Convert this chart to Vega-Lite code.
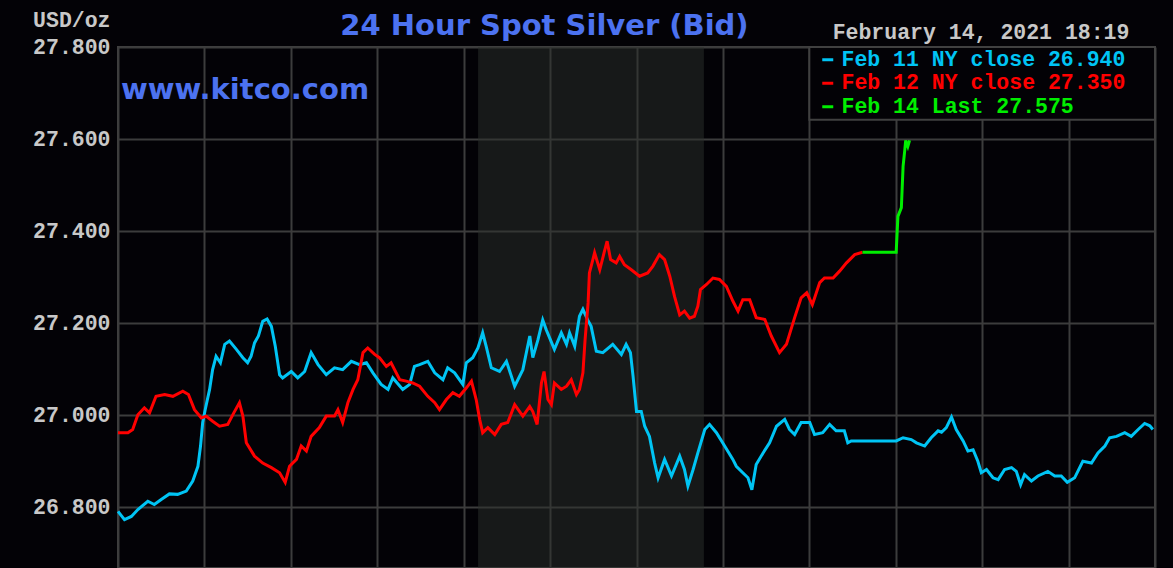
{
  "$schema": "https://vega.github.io/schema/vega-lite/v6.json",
  "width": 1037,
  "height": 521,
  "autosize": {"type": "none"},
  "padding": {"left": 118, "top": 47, "right": 18, "bottom": 0},
  "background": "#030206",
  "config": {
    "view": {"stroke": "#404040", "strokeWidth": 2},
    "axis": {"gridColor": "#3c3c3c", "gridWidth": 2, "gridOpacity": 1}
  },
  "datasets": {
    "spot": [
      {"series":"Feb 11","hour":0,"price":26.791},{"series":"Feb 11","hour":0.15,"price":26.773},{"series":"Feb 11","hour":0.31,"price":26.78},{"series":"Feb 11","hour":0.46,"price":26.795},{"series":"Feb 11","hour":0.69,"price":26.813},{"series":"Feb 11","hour":0.84,"price":26.806},{"series":"Feb 11","hour":1.0,"price":26.817},{"series":"Feb 11","hour":1.19,"price":26.829},{"series":"Feb 11","hour":1.38,"price":26.828},{"series":"Feb 11","hour":1.58,"price":26.835},{"series":"Feb 11","hour":1.73,"price":26.857},{"series":"Feb 11","hour":1.85,"price":26.889},{"series":"Feb 11","hour":1.91,"price":26.933},{"series":"Feb 11","hour":1.96,"price":26.984},{"series":"Feb 11","hour":2.02,"price":27.013},{"series":"Feb 11","hour":2.12,"price":27.056},{"series":"Feb 11","hour":2.19,"price":27.099},{"series":"Feb 11","hour":2.27,"price":27.128},{"series":"Feb 11","hour":2.37,"price":27.114},{"series":"Feb 11","hour":2.47,"price":27.154},{"series":"Feb 11","hour":2.58,"price":27.161},{"series":"Feb 11","hour":2.74,"price":27.143},{"series":"Feb 11","hour":2.89,"price":27.125},{"series":"Feb 11","hour":3.0,"price":27.114},{"series":"Feb 11","hour":3.08,"price":27.128},{"series":"Feb 11","hour":3.16,"price":27.157},{"series":"Feb 11","hour":3.25,"price":27.172},{"series":"Feb 11","hour":3.35,"price":27.204},{"series":"Feb 11","hour":3.45,"price":27.209},{"series":"Feb 11","hour":3.55,"price":27.193},{"series":"Feb 11","hour":3.64,"price":27.15},{"series":"Feb 11","hour":3.74,"price":27.088},{"series":"Feb 11","hour":3.81,"price":27.081},{"series":"Feb 11","hour":4.01,"price":27.095},{"series":"Feb 11","hour":4.16,"price":27.081},{"series":"Feb 11","hour":4.32,"price":27.095},{"series":"Feb 11","hour":4.47,"price":27.136},{"series":"Feb 11","hour":4.63,"price":27.11},{"series":"Feb 11","hour":4.82,"price":27.088},{"series":"Feb 11","hour":5.01,"price":27.103},{"series":"Feb 11","hour":5.2,"price":27.099},{"series":"Feb 11","hour":5.4,"price":27.117},{"series":"Feb 11","hour":5.59,"price":27.11},{"series":"Feb 11","hour":5.75,"price":27.114},{"series":"Feb 11","hour":5.9,"price":27.092},{"series":"Feb 11","hour":6.09,"price":27.067},{"series":"Feb 11","hour":6.25,"price":27.056},{"series":"Feb 11","hour":6.36,"price":27.081},{"series":"Feb 11","hour":6.59,"price":27.056},{"series":"Feb 11","hour":6.75,"price":27.067},{"series":"Feb 11","hour":6.86,"price":27.106},{"series":"Feb 11","hour":6.98,"price":27.11},{"series":"Feb 11","hour":7.17,"price":27.117},{"series":"Feb 11","hour":7.33,"price":27.092},{"series":"Feb 11","hour":7.52,"price":27.077},{"series":"Feb 11","hour":7.63,"price":27.103},{"series":"Feb 11","hour":7.79,"price":27.092},{"series":"Feb 11","hour":7.98,"price":27.067},{"series":"Feb 11","hour":8.06,"price":27.114},{"series":"Feb 11","hour":8.21,"price":27.125},{"series":"Feb 11","hour":8.33,"price":27.146},{"series":"Feb 11","hour":8.44,"price":27.179},{"series":"Feb 11","hour":8.52,"price":27.15},{"series":"Feb 11","hour":8.64,"price":27.103},{"series":"Feb 11","hour":8.83,"price":27.095},{"series":"Feb 11","hour":8.99,"price":27.117},{"series":"Feb 11","hour":9.18,"price":27.063},{"series":"Feb 11","hour":9.37,"price":27.099},{"series":"Feb 11","hour":9.53,"price":27.172},{"series":"Feb 11","hour":9.6,"price":27.125},{"series":"Feb 11","hour":9.72,"price":27.164},{"series":"Feb 11","hour":9.83,"price":27.207},{"series":"Feb 11","hour":9.91,"price":27.186},{"series":"Feb 11","hour":10.1,"price":27.143},{"series":"Feb 11","hour":10.26,"price":27.179},{"series":"Feb 11","hour":10.38,"price":27.154},{"series":"Feb 11","hour":10.45,"price":27.179},{"series":"Feb 11","hour":10.57,"price":27.15},{"series":"Feb 11","hour":10.68,"price":27.215},{"series":"Feb 11","hour":10.76,"price":27.23},{"series":"Feb 11","hour":10.87,"price":27.207},{"series":"Feb 11","hour":10.95,"price":27.193},{"series":"Feb 11","hour":11.07,"price":27.139},{"series":"Feb 11","hour":11.22,"price":27.136},{"series":"Feb 11","hour":11.45,"price":27.154},{"series":"Feb 11","hour":11.65,"price":27.132},{"series":"Feb 11","hour":11.76,"price":27.154},{"series":"Feb 11","hour":11.86,"price":27.136},{"series":"Feb 11","hour":11.92,"price":27.085},{"series":"Feb 11","hour":12.0,"price":27.008},{"series":"Feb 11","hour":12.11,"price":27.008},{"series":"Feb 11","hour":12.19,"price":26.976},{"series":"Feb 11","hour":12.3,"price":26.954},{"series":"Feb 11","hour":12.42,"price":26.896},{"series":"Feb 11","hour":12.5,"price":26.864},{"series":"Feb 11","hour":12.65,"price":26.904},{"series":"Feb 11","hour":12.81,"price":26.868},{"series":"Feb 11","hour":13.0,"price":26.911},{"series":"Feb 11","hour":13.11,"price":26.882},{"series":"Feb 11","hour":13.19,"price":26.846},{"series":"Feb 11","hour":13.31,"price":26.882},{"series":"Feb 11","hour":13.42,"price":26.918},{"series":"Feb 11","hour":13.58,"price":26.969},{"series":"Feb 11","hour":13.69,"price":26.98},{"series":"Feb 11","hour":13.85,"price":26.962},{"series":"Feb 11","hour":14.04,"price":26.933},{"series":"Feb 11","hour":14.23,"price":26.904},{"series":"Feb 11","hour":14.31,"price":26.889},{"series":"Feb 11","hour":14.46,"price":26.875},{"series":"Feb 11","hour":14.58,"price":26.864},{"series":"Feb 11","hour":14.67,"price":26.838},{"series":"Feb 11","hour":14.77,"price":26.893},{"series":"Feb 11","hour":14.93,"price":26.918},{"series":"Feb 11","hour":15.08,"price":26.94},{"series":"Feb 11","hour":15.24,"price":26.976},{"series":"Feb 11","hour":15.43,"price":26.991},{"series":"Feb 11","hour":15.54,"price":26.969},{"series":"Feb 11","hour":15.66,"price":26.958},{"series":"Feb 11","hour":15.81,"price":26.984},{"series":"Feb 11","hour":16.01,"price":26.984},{"series":"Feb 11","hour":16.12,"price":26.958},{"series":"Feb 11","hour":16.31,"price":26.962},{"series":"Feb 11","hour":16.47,"price":26.98},{"series":"Feb 11","hour":16.62,"price":26.966},{"series":"Feb 11","hour":16.81,"price":26.966},{"series":"Feb 11","hour":16.89,"price":26.94},{"series":"Feb 11","hour":16.97,"price":26.944},{"series":"Feb 11","hour":18.01,"price":26.944},{"series":"Feb 11","hour":18.17,"price":26.951},{"series":"Feb 11","hour":18.36,"price":26.947},{"series":"Feb 11","hour":18.48,"price":26.94},{"series":"Feb 11","hour":18.67,"price":26.933},{"series":"Feb 11","hour":18.82,"price":26.951},{"series":"Feb 11","hour":18.98,"price":26.966},{"series":"Feb 11","hour":19.06,"price":26.963},{"series":"Feb 11","hour":19.17,"price":26.973},{"series":"Feb 11","hour":19.29,"price":26.996},{"series":"Feb 11","hour":19.4,"price":26.969},{"series":"Feb 11","hour":19.56,"price":26.944},{"series":"Feb 11","hour":19.67,"price":26.922},{"series":"Feb 11","hour":19.79,"price":26.925},{"series":"Feb 11","hour":19.9,"price":26.9},{"series":"Feb 11","hour":19.98,"price":26.875},{"series":"Feb 11","hour":20.1,"price":26.882},{"series":"Feb 11","hour":20.25,"price":26.864},{"series":"Feb 11","hour":20.37,"price":26.86},{"series":"Feb 11","hour":20.52,"price":26.882},{"series":"Feb 11","hour":20.68,"price":26.886},{"series":"Feb 11","hour":20.79,"price":26.878},{"series":"Feb 11","hour":20.89,"price":26.849},{"series":"Feb 11","hour":20.98,"price":26.871},{"series":"Feb 11","hour":21.14,"price":26.857},{"series":"Feb 11","hour":21.29,"price":26.868},{"series":"Feb 11","hour":21.52,"price":26.878},{"series":"Feb 11","hour":21.68,"price":26.868},{"series":"Feb 11","hour":21.83,"price":26.868},{"series":"Feb 11","hour":21.97,"price":26.854},{"series":"Feb 11","hour":22.14,"price":26.864},{"series":"Feb 11","hour":22.33,"price":26.9},{"series":"Feb 11","hour":22.53,"price":26.896},{"series":"Feb 11","hour":22.68,"price":26.918},{"series":"Feb 11","hour":22.84,"price":26.933},{"series":"Feb 11","hour":22.95,"price":26.951},{"series":"Feb 11","hour":23.11,"price":26.954},{"series":"Feb 11","hour":23.3,"price":26.962},{"series":"Feb 11","hour":23.45,"price":26.954},{"series":"Feb 11","hour":23.61,"price":26.969},{"series":"Feb 11","hour":23.76,"price":26.982},{"series":"Feb 11","hour":23.88,"price":26.977},{"series":"Feb 11","hour":23.95,"price":26.969},
      {"series":"Feb 12","hour":0,"price":26.962},{"series":"Feb 12","hour":0.23,"price":26.962},{"series":"Feb 12","hour":0.34,"price":26.969},{"series":"Feb 12","hour":0.46,"price":27.001},{"series":"Feb 12","hour":0.61,"price":27.016},{"series":"Feb 12","hour":0.73,"price":27.005},{"series":"Feb 12","hour":0.88,"price":27.041},{"series":"Feb 12","hour":1.08,"price":27.045},{"series":"Feb 12","hour":1.27,"price":27.041},{"series":"Feb 12","hour":1.5,"price":27.052},{"series":"Feb 12","hour":1.63,"price":27.045},{"series":"Feb 12","hour":1.77,"price":27.012},{"series":"Feb 12","hour":1.93,"price":26.994},{"series":"Feb 12","hour":2.04,"price":26.998},{"series":"Feb 12","hour":2.19,"price":26.987},{"series":"Feb 12","hour":2.35,"price":26.976},{"series":"Feb 12","hour":2.54,"price":26.98},{"series":"Feb 12","hour":2.68,"price":27.005},{"series":"Feb 12","hour":2.81,"price":27.027},{"series":"Feb 12","hour":2.89,"price":26.998},{"series":"Feb 12","hour":2.97,"price":26.94},{"series":"Feb 12","hour":3.16,"price":26.911},{"series":"Feb 12","hour":3.35,"price":26.896},{"series":"Feb 12","hour":3.55,"price":26.886},{"series":"Feb 12","hour":3.74,"price":26.875},{"series":"Feb 12","hour":3.87,"price":26.854},{"series":"Feb 12","hour":3.97,"price":26.889},{"series":"Feb 12","hour":4.13,"price":26.904},{"series":"Feb 12","hour":4.24,"price":26.933},{"series":"Feb 12","hour":4.36,"price":26.922},{"series":"Feb 12","hour":4.47,"price":26.954},{"series":"Feb 12","hour":4.66,"price":26.973},{"series":"Feb 12","hour":4.82,"price":26.998},{"series":"Feb 12","hour":5.01,"price":26.998},{"series":"Feb 12","hour":5.09,"price":27.012},{"series":"Feb 12","hour":5.2,"price":26.984},{"series":"Feb 12","hour":5.32,"price":27.027},{"series":"Feb 12","hour":5.44,"price":27.056},{"series":"Feb 12","hour":5.55,"price":27.077},{"series":"Feb 12","hour":5.67,"price":27.136},{"series":"Feb 12","hour":5.78,"price":27.146},{"series":"Feb 12","hour":5.94,"price":27.132},{"series":"Feb 12","hour":6.05,"price":27.125},{"series":"Feb 12","hour":6.21,"price":27.106},{"series":"Feb 12","hour":6.32,"price":27.114},{"series":"Feb 12","hour":6.52,"price":27.077},{"series":"Feb 12","hour":6.67,"price":27.074},{"series":"Feb 12","hour":6.82,"price":27.07},{"series":"Feb 12","hour":6.98,"price":27.063},{"series":"Feb 12","hour":7.17,"price":27.041},{"series":"Feb 12","hour":7.33,"price":27.027},{"series":"Feb 12","hour":7.44,"price":27.012},{"series":"Feb 12","hour":7.6,"price":27.034},{"series":"Feb 12","hour":7.75,"price":27.049},{"series":"Feb 12","hour":7.9,"price":27.041},{"series":"Feb 12","hour":8.06,"price":27.059},{"series":"Feb 12","hour":8.18,"price":27.074},{"series":"Feb 12","hour":8.29,"price":27.034},{"series":"Feb 12","hour":8.37,"price":26.991},{"series":"Feb 12","hour":8.44,"price":26.962},{"series":"Feb 12","hour":8.56,"price":26.973},{"series":"Feb 12","hour":8.72,"price":26.958},{"series":"Feb 12","hour":8.87,"price":26.98},{"series":"Feb 12","hour":9.02,"price":26.984},{"series":"Feb 12","hour":9.18,"price":27.023},{"series":"Feb 12","hour":9.37,"price":26.998},{"series":"Feb 12","hour":9.53,"price":27.019},{"series":"Feb 12","hour":9.6,"price":27.008},{"series":"Feb 12","hour":9.7,"price":26.98},{"series":"Feb 12","hour":9.8,"price":27.07},{"series":"Feb 12","hour":9.86,"price":27.095},{"series":"Feb 12","hour":9.95,"price":27.034},{"series":"Feb 12","hour":10.03,"price":27.023},{"series":"Feb 12","hour":10.1,"price":27.07},{"series":"Feb 12","hour":10.26,"price":27.056},{"series":"Feb 12","hour":10.38,"price":27.063},{"series":"Feb 12","hour":10.49,"price":27.077},{"series":"Feb 12","hour":10.61,"price":27.045},{"series":"Feb 12","hour":10.68,"price":27.056},{"series":"Feb 12","hour":10.76,"price":27.092},{"series":"Feb 12","hour":10.81,"price":27.164},{"series":"Feb 12","hour":10.88,"price":27.244},{"series":"Feb 12","hour":10.91,"price":27.309},{"series":"Feb 12","hour":10.99,"price":27.338},{"series":"Feb 12","hour":11.03,"price":27.353},{"series":"Feb 12","hour":11.15,"price":27.316},{"series":"Feb 12","hour":11.25,"price":27.353},{"series":"Feb 12","hour":11.32,"price":27.378},{"series":"Feb 12","hour":11.4,"price":27.338},{"series":"Feb 12","hour":11.53,"price":27.331},{"series":"Feb 12","hour":11.61,"price":27.345},{"series":"Feb 12","hour":11.72,"price":27.327},{"series":"Feb 12","hour":11.88,"price":27.316},{"series":"Feb 12","hour":12.07,"price":27.302},{"series":"Feb 12","hour":12.26,"price":27.309},{"series":"Feb 12","hour":12.38,"price":27.324},{"series":"Feb 12","hour":12.53,"price":27.349},{"series":"Feb 12","hour":12.65,"price":27.338},{"series":"Feb 12","hour":12.77,"price":27.302},{"series":"Feb 12","hour":12.88,"price":27.258},{"series":"Feb 12","hour":13.0,"price":27.218},{"series":"Feb 12","hour":13.11,"price":27.226},{"series":"Feb 12","hour":13.23,"price":27.211},{"series":"Feb 12","hour":13.34,"price":27.215},{"series":"Feb 12","hour":13.42,"price":27.237},{"series":"Feb 12","hour":13.48,"price":27.273},{"series":"Feb 12","hour":13.62,"price":27.284},{"series":"Feb 12","hour":13.77,"price":27.298},{"series":"Feb 12","hour":13.92,"price":27.295},{"series":"Feb 12","hour":14.08,"price":27.28},{"series":"Feb 12","hour":14.23,"price":27.248},{"series":"Feb 12","hour":14.35,"price":27.226},{"series":"Feb 12","hour":14.46,"price":27.251},{"series":"Feb 12","hour":14.62,"price":27.251},{"series":"Feb 12","hour":14.77,"price":27.212},{"series":"Feb 12","hour":14.97,"price":27.208},{"series":"Feb 12","hour":15.12,"price":27.172},{"series":"Feb 12","hour":15.31,"price":27.136},{"series":"Feb 12","hour":15.47,"price":27.154},{"series":"Feb 12","hour":15.66,"price":27.212},{"series":"Feb 12","hour":15.81,"price":27.255},{"series":"Feb 12","hour":15.94,"price":27.266},{"series":"Feb 12","hour":16.07,"price":27.24},{"series":"Feb 12","hour":16.24,"price":27.288},{"series":"Feb 12","hour":16.35,"price":27.298},{"series":"Feb 12","hour":16.55,"price":27.298},{"series":"Feb 12","hour":16.7,"price":27.313},{"series":"Feb 12","hour":16.86,"price":27.331},{"series":"Feb 12","hour":17.05,"price":27.349},{"series":"Feb 12","hour":17.23,"price":27.354},
      {"series":"Feb 14","hour":17.23,"price":27.354},{"series":"Feb 14","hour":18.01,"price":27.354},{"series":"Feb 14","hour":18.05,"price":27.432},{"series":"Feb 14","hour":18.13,"price":27.451},{"series":"Feb 14","hour":18.17,"price":27.541},{"series":"Feb 14","hour":18.21,"price":27.577},{"series":"Feb 14","hour":18.23,"price":27.597},{"series":"Feb 14","hour":18.28,"price":27.584},{"series":"Feb 14","hour":18.32,"price":27.597}
    ],
    "session": [{"open": 8.333, "close": 13.56}]
  },
  "layer": [
    {
      "data": {"name": "session"},
      "mark": {"type": "rect", "fill": "#2c302c", "opacity": 0.5},
      "encoding": {
        "x": {"field": "open", "type": "quantitative", "scale": {"domain": [0, 24], "nice": false, "zero": false},
              "axis": {"values": [0,2,4,6,8,10,12,14,16,18,20,22,24], "labels": false, "ticks": false, "domain": false, "grid": true, "title": null}},
        "x2": {"field": "close"}
      }
    },
    {
      "data": {"name": "spot"},
      "mark": {"type": "line", "strokeWidth": 3, "interpolate": "linear"},
      "encoding": {
        "x": {"field": "hour", "type": "quantitative"},
        "y": {"field": "price", "type": "quantitative",
              "scale": {"domain": [26.668, 27.8], "nice": false, "zero": false},
              "axis": {"values": [26.8, 27.0, 27.2, 27.4, 27.6, 27.8], "format": ".3f", "grid": true, "domain": false, "ticks": false,
                       "labelPadding": 8, "labelFont": "Liberation Mono", "labelFontSize": 21.5, "labelFontWeight": "bold", "labelColor": "#c8c8c8",
                       "labelBaseline": "middle", "labelOverlap": false, "labelBound": false,
                       "title": "USD/oz", "titleAngle": 0, "titleAlign": "right", "titleBaseline": "middle", "titleX": -8, "titleY": -27,
                       "titleFont": "Liberation Mono", "titleFontSize": 21.5, "titleFontWeight": "bold", "titleColor": "#c8c8c8"}},
        "color": {"field": "series", "type": "nominal",
                  "scale": {"domain": ["Feb 11", "Feb 12", "Feb 14"], "range": ["#00c4f4", "#ff0000", "#00ee00"]},
                  "legend": {"orient": "none", "legendX": 699, "legendY": 2, "title": null, "symbolType": "stroke", "symbolSize": 121, "symbolStrokeWidth": 3,
                             "labelOffset": 3, "rowPadding": 0.5, "padding": 0,
                             "labelFont": "Liberation Mono", "labelFontSize": 21.5, "labelFontWeight": "bold", "labelLimit": 400,
                             "labelExpr": "datum.label == 'Feb 11' ? 'Feb 11 NY close 26.940' : datum.label == 'Feb 12' ? 'Feb 12 NY close 27.350' : 'Feb 14 Last 27.575'",
                             "encode": {"labels": {"update": {"fill": {"scale": "color", "field": "value"}}}}}},
        "detail": {"field": "series"}
      }
    },
    {
      "data": {"values": [{}]},
      "mark": {"type": "rect", "fill": "#030206", "stroke": "#404040", "strokeWidth": 2},
      "encoding": {
        "x": {"datum": 16, "type": "quantitative"},
        "x2": {"datum": 24},
        "y": {"datum": 27.8, "type": "quantitative"},
        "y2": {"datum": 27.642}
      }
    },
    {
      "data": {"values": [{}]},
      "mark": {"type": "text", "text": "24 Hour Spot Silver (Bid)", "align": "center", "baseline": "alphabetic", "font": "DejaVu Sans", "fontSize": 29, "fontWeight": "bold", "fill": "#4c72f0"},
      "encoding": {
        "x": {"datum": 9.87, "type": "quantitative"},
        "y": {"datum": 27.827, "type": "quantitative"}
      }
    },
    {
      "data": {"values": [{}]},
      "mark": {"type": "text", "text": "www.kitco.com", "align": "left", "baseline": "alphabetic", "font": "DejaVu Sans", "fontSize": 29, "fontWeight": "bold", "fill": "#4c72f0"},
      "encoding": {
        "x": {"datum": 0.07, "type": "quantitative"},
        "y": {"datum": 27.686, "type": "quantitative"}
      }
    },
    {
      "data": {"values": [{}]},
      "mark": {"type": "text", "text": "February 14, 2021 18:19", "align": "left", "baseline": "middle", "font": "Liberation Mono", "fontSize": 21.5, "fontWeight": "bold", "fill": "#c8c8c8"},
      "encoding": {
        "x": {"datum": 16.54, "type": "quantitative"},
        "y": {"datum": 27.8315, "type": "quantitative"}
      }
    }
  ]
}
